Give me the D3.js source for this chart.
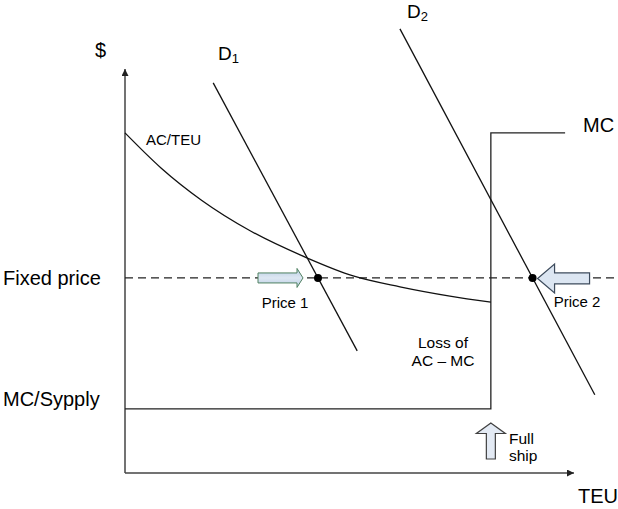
<!DOCTYPE html>
<html>
<head>
<meta charset="utf-8">
<script src="https://cdn.jsdelivr.net/npm/d3@7"></script>
<style>
  body { margin: 0; background: #fff; }
  svg { display: block; font-family: "Liberation Sans", Arial, sans-serif; }
</style>
</head>
<body>
<div id="chart"></div>
<script>
// values in chart units: TEU on x (0..100), $ on y (0..100)
const fixedPrice = 48.4
const mcLow = 15.9
const mcHigh = 84.4
const fullShip = 81.3
const mcEnd = 97.8

const acTEU = [0, 8, 17, 28, 40.4, 50.7, 61.1, 72.2, 81.3]
const acCost = [84.4, 75.7, 67.7, 60.0, 53.4, 48.9, 46.2, 43.9, 42.4]

const d1TEU = [19.6, 51.6]
const d1Cost = [96.8, 30.3]
const d2TEU = [61.1, 104.4]
const d2Cost = [110.2, 19.4]

const width = 618
const height = 509

const x = d3.scaleLinear().domain([0, 100]).range([125, 575])
const y = d3.scaleLinear().domain([0, 100]).range([473, 70])

const svg = d3.select("#chart").append("svg")
    .attr("width", width)
    .attr("height", height)

const defs = svg.append("defs")
defs.append("marker")
    .attr("id", "axis-arrow")
    .attr("viewBox", "0 0 10 10")
    .attr("refX", 10).attr("refY", 5)
    .attr("markerWidth", 7).attr("markerHeight", 7)
    .attr("markerUnits", "userSpaceOnUse")
    .attr("orient", "auto")
  .append("path")
    .attr("d", "M0,0 L10,5 L0,10 Z")
    .attr("fill", "#222")

const grad = defs.append("linearGradient")
    .attr("id", "blue-grad")
    .attr("x1", 0).attr("y1", 0).attr("x2", 0).attr("y2", 1)
grad.append("stop").attr("offset", "0%").attr("stop-color", "#b9cde4")
grad.append("stop").attr("offset", "50%").attr("stop-color", "#dde7f2")
grad.append("stop").attr("offset", "100%").attr("stop-color", "#b9cde4")

// axes
svg.append("line")
    .attr("x1", x(0)).attr("y1", y(0))
    .attr("x2", x(0)).attr("y2", y(100) - 1)
    .attr("stroke", "#444").attr("stroke-width", 1.5)
    .attr("marker-end", "url(#axis-arrow)")
svg.append("line")
    .attr("x1", x(0)).attr("y1", y(0))
    .attr("x2", x(100) - 1).attr("y2", y(0))
    .attr("stroke", "#444").attr("stroke-width", 1.5)
    .attr("marker-end", "url(#axis-arrow)")

const line = d3.line().x(d => x(d[0])).y(d => y(d[1]))

// fixed price dashed line
svg.append("path")
    .attr("d", line([[0, fixedPrice], [109.8, fixedPrice]]))
    .attr("fill", "none")
    .attr("stroke", "#222")
    .attr("stroke-width", 1.2)
    .attr("stroke-dasharray", "8,5")

// MC / supply step
svg.append("path")
    .attr("d", line([[0, mcLow], [fullShip, mcLow], [fullShip, mcHigh], [mcEnd, mcHigh]]))
    .attr("fill", "none")
    .attr("stroke", "#222")
    .attr("stroke-width", 1.3)

// AC/TEU curve
svg.append("path")
    .attr("d", line.curve(d3.curveMonotoneX)(d3.zip(acTEU, acCost)))
    .attr("fill", "none")
    .attr("stroke", "#111")
    .attr("stroke-width", 1.3)
line.curve(d3.curveLinear)

// demand lines
const demands = [d3.zip(d1TEU, d1Cost), d3.zip(d2TEU, d2Cost)]
svg.selectAll(".demand").data(demands).join("path")
    .attr("class", "demand")
    .attr("d", d => line(d))
    .attr("fill", "none")
    .attr("stroke", "#111")
    .attr("stroke-width", 1.3)

// where each demand meets the fixed price
function atPrice(d) {
    const t = (fixedPrice - d[0][1]) / (d[1][1] - d[0][1])
    return d[0][0] + t * (d[1][0] - d[0][0])
}
svg.selectAll(".dot").data(demands).join("circle")
    .attr("class", "dot")
    .attr("cx", d => x(atPrice(d)))
    .attr("cy", y(fixedPrice))
    .attr("r", 4)
    .attr("fill", "#000")

// block arrows
function blockArrow(len, bodyHalf, headHalf, headLen) {
    return `M0,0 L${-headLen},${-headHalf} L${-headLen},${-bodyHalf} L${-len},${-bodyHalf} ` +
        `L${-len},${bodyHalf} L${-headLen},${bodyHalf} L${-headLen},${headHalf} Z`
}
const p1 = x(atPrice(demands[0]))
svg.append("path")
    .attr("d", blockArrow(45, 5, 9.5, 6))
    .attr("transform", `translate(${p1 - 15},${y(fixedPrice)})`)
    .attr("fill", "url(#blue-grad)")
    .attr("stroke", "#4f8160")
    .attr("stroke-width", 1)
const p2 = x(atPrice(demands[1]))
svg.append("path")
    .attr("d", blockArrow(52, 5.5, 14.5, 17))
    .attr("transform", `translate(${p2 + 5},${y(fixedPrice) + 0.5}) rotate(180)`)
    .attr("fill", "#dce6f2")
    .attr("stroke", "#3d4b5c")
    .attr("stroke-width", 1.2)
svg.append("path")
    .attr("d", blockArrow(36, 4.5, 14.5, 10.5))
    .attr("transform", `translate(${x(fullShip)},423) rotate(-90)`)
    .attr("fill", "#e3eaf4")
    .attr("stroke", "#404040")
    .attr("stroke-width", 1.2)

// text
function label(txt, lx, ly, size, anchor) {
    return svg.append("text")
        .attr("x", lx).attr("y", ly)
        .attr("font-size", size)
        .attr("text-anchor", anchor || "start")
        .attr("fill", "#000")
        .text(txt)
}
label("$", 95, 57, 20)
label("Fixed price", 3, y(fixedPrice) + 7, 20)
label("MC/Sypply", 3, 406, 20)
label("TEU", 578, 503, 20)
label("MC", 583, 132, 20)
label("AC/TEU", 146, 145, 15)
label("Price 1", 285, 308, 15, "middle")
label("Price 2", 577, 307, 15, "middle")
label("Loss of", 443, 348, 15.5, "middle")
label("AC \u2013 MC", 443, 366, 15.5, "middle")
label("Full", 509, 444, 15.5)
label("ship", 509, 461, 15.5)

const dl1 = label("D", 218, 60, 19)
dl1.append("tspan").attr("font-size", 13).attr("dy", 3).text("1")
const dl2 = label("D", 407, 18, 19)
dl2.append("tspan").attr("font-size", 13).attr("dy", 3).text("2")
</script>
</body>
</html>
